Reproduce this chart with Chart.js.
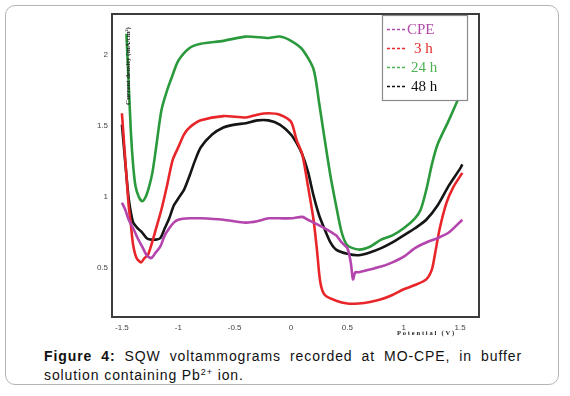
<!DOCTYPE html>
<html>
<head>
<meta charset="utf-8">
<script src="https://cdn.jsdelivr.net/npm/chart.js@4/dist/chart.umd.min.js"></script>
<style>
  html,body{margin:0;padding:0;background:#fff;width:570px;height:396px;overflow:hidden;}
  #frame{position:absolute;left:5px;top:5px;width:552px;height:378px;border:1.5px solid #b4b4b4;border-radius:10px;}
  #wrap{position:absolute;left:0;top:0;width:570px;height:340px;}
  #cap{position:absolute;left:44px;top:347px;width:478px;font-family:"Liberation Sans",Arial,sans-serif;font-size:14px;letter-spacing:0.9px;line-height:19px;color:#111;}
  #cap .l1{text-align:justify;text-align-last:justify;}
  #cap b{font-weight:bold;}
  #cap sup{font-size:9px;line-height:0;vertical-align:5px;}
</style>
</head>
<body>
<div id="frame"></div>
<div id="wrap"><canvas id="c" width="570" height="340"></canvas></div>
<div id="cap"><div class="l1"><b>Figure 4:</b> SQW voltammograms recorded at MO-CPE, in buffer</div><div>solution containing Pb<sup>2+</sup> ion.</div></div>
<script>
// ---- data (potential V, current density mA/cm2) ----
const seriesNames = ["CPE", "3 h", "24 h", "48 h"];
const xTicks = [-1.5, -1, -0.5, 0, 0.5, 1, 1.5];
const yTicks = [0.5, 1, 1.5, 2];

const cpeV = [-1.5,-1.47,-1.44,-1.40,-1.36,-1.32,-1.28,-1.24,-1.20,-1.16,-1.12,-1.08,-1.04,-1.0,-0.9,-0.8,-0.6,-0.4,-0.3,-0.2,-0.1,0.0,0.1,0.15,0.2,0.3,0.4,0.45,0.5,0.53,0.55,0.57,0.6,0.7,0.8,0.9,1.0,1.1,1.2,1.3,1.4,1.52];
const cpeI = [0.96,0.91,0.84,0.78,0.71,0.65,0.59,0.57,0.61,0.65,0.73,0.78,0.82,0.84,0.85,0.85,0.84,0.82,0.83,0.85,0.85,0.85,0.86,0.84,0.82,0.78,0.73,0.68,0.64,0.54,0.42,0.47,0.47,0.49,0.51,0.54,0.58,0.64,0.68,0.71,0.75,0.84];

const h3V = [-1.5,-1.48,-1.46,-1.44,-1.42,-1.40,-1.37,-1.33,-1.30,-1.27,-1.24,-1.20,-1.15,-1.10,-1.05,-1.0,-0.95,-0.9,-0.8,-0.6,-0.4,-0.3,-0.2,-0.1,0.0,0.05,0.1,0.15,0.2,0.23,0.26,0.3,0.4,0.5,0.6,0.7,0.8,0.9,1.0,1.1,1.2,1.25,1.28,1.32,1.38,1.44,1.52];
const h3I = [1.59,1.37,1.15,0.94,0.80,0.66,0.57,0.54,0.57,0.59,0.66,0.77,0.91,1.08,1.26,1.35,1.44,1.49,1.54,1.57,1.56,1.58,1.59,1.58,1.53,1.40,1.30,1.08,0.84,0.63,0.40,0.31,0.27,0.25,0.25,0.26,0.28,0.31,0.35,0.38,0.42,0.49,0.61,0.78,0.96,1.07,1.17];

const h24V = [-1.46,-1.44,-1.42,-1.40,-1.38,-1.35,-1.32,-1.29,-1.26,-1.23,-1.20,-1.15,-1.10,-1.05,-1.0,-0.9,-0.8,-0.6,-0.4,-0.2,-0.1,0.0,0.1,0.2,0.25,0.3,0.35,0.4,0.45,0.5,0.6,0.7,0.8,0.9,1.0,1.1,1.15,1.2,1.25,1.3,1.4,1.5];
const h24I = [2.15,1.80,1.45,1.22,1.08,1.00,0.97,1.00,1.07,1.17,1.33,1.61,1.75,1.86,1.96,2.05,2.08,2.10,2.13,2.12,2.13,2.10,2.04,1.90,1.66,1.40,1.15,0.94,0.75,0.66,0.63,0.65,0.70,0.73,0.78,0.85,0.91,1.05,1.23,1.37,1.54,1.72];

const h48V = [-1.5,-1.48,-1.46,-1.44,-1.42,-1.40,-1.36,-1.32,-1.28,-1.24,-1.20,-1.16,-1.12,-1.08,-1.04,-1.0,-0.95,-0.9,-0.85,-0.8,-0.7,-0.6,-0.5,-0.4,-0.3,-0.2,-0.1,0.0,0.05,0.1,0.15,0.2,0.25,0.3,0.35,0.4,0.5,0.6,0.7,0.8,0.9,1.0,1.1,1.2,1.3,1.4,1.5,1.52];
const h48I = [1.51,1.33,1.15,0.99,0.89,0.82,0.78,0.75,0.71,0.70,0.70,0.71,0.78,0.85,0.94,0.99,1.05,1.15,1.26,1.35,1.44,1.49,1.51,1.52,1.54,1.54,1.51,1.44,1.38,1.30,1.18,1.01,0.87,0.77,0.68,0.63,0.60,0.59,0.61,0.64,0.68,0.73,0.78,0.84,0.94,1.08,1.20,1.23];

const lineColors = ["#b445ad", "#e8262a", "#2a9a3c", "#151515"];
const legendTextColors = ["#b04aa8", "#e42a2a", "#4cb254", "#111111"];

const zip = (xs, ys) => xs.map((x, i) => ({x: x, y: ys[i]}));
const seriesData = [zip(cpeV, cpeI), zip(h3V, h3I), zip(h24V, h24I), zip(h48V, h48I)];

const textPlugin = {
  id: 'legendAndTitles',
  afterDraw(chart) {
    const ctx = chart.ctx, a = chart.chartArea;
    ctx.save();
    // top and right sides of the plot frame (left/bottom come from the scale borders)
    ctx.fillStyle = '#3c3c3c';
    ctx.fillRect(a.left - 1, a.top - 2, a.right - a.left + 3, 2);
    ctx.fillRect(a.right, a.top - 2, 2, a.bottom - a.top + 3);
    // legend box
    const lx = 382, ly = a.top, lw = 85, lh = 85;
    ctx.fillStyle = '#fff';
    ctx.fillRect(lx, ly, lw, lh);
    ctx.strokeStyle = '#8a8a8a';
    ctx.lineWidth = 1.2;
    ctx.strokeRect(lx + 0.5, ly + 0.5, lw, lh);
    ctx.textBaseline = 'middle';
    const rowsY = [29, 48, 67, 86];
    const textX = [407, 414, 411, 411];
    for (let i = 0; i < seriesNames.length; i++) {
      ctx.strokeStyle = legendTextColors[i];
      ctx.lineWidth = 1.3;
      ctx.setLineDash([3, 2]);
      ctx.beginPath();
      ctx.moveTo(387, rowsY[i] + 0.5);
      ctx.lineTo(405, rowsY[i] + 0.5);
      ctx.stroke();
      ctx.setLineDash([]);
      ctx.fillStyle = legendTextColors[i];
      ctx.font = '15px "Liberation Serif", "Times New Roman", serif';
      ctx.fillText(seriesNames[i], textX[i], rowsY[i] + 1);
    }
    // y-axis title inside plot
    ctx.fillStyle = '#222';
    ctx.font = 'bold 7px "Liberation Serif", serif';
    ctx.translate(128, 66);
    ctx.rotate(-Math.PI / 2);
    ctx.textAlign = 'center';
    ctx.fillText('Current density (mA/cm\u00B2)', 0, 0);
    ctx.restore();
    ctx.save();
    // x-axis title
    ctx.font = 'bold 6.5px "Liberation Serif", serif';
    ctx.letterSpacing = '1.8px';
    ctx.textAlign = 'left';
    ctx.textBaseline = 'middle';
    ctx.fillStyle = '#222';
    ctx.fillText('Potential (V)', 397, 333);
    ctx.restore();
  }
};

new Chart(document.getElementById('c'), {
  type: 'line',
  data: {
    datasets: seriesData.map((d, i) => ({
      label: seriesNames[i],
      data: d,
      borderColor: lineColors[i],
      backgroundColor: lineColors[i],
      borderWidth: 2.6,
      pointRadius: 0,
      tension: 0.25,
      fill: false
    }))
  },
  options: {
    responsive: false,
    animation: false,
    layout: {padding: {left: 0, top: 15, right: 92, bottom: 0}},
    plugins: {legend: {display: false}, tooltip: {enabled: false}},
    scales: {
      x: {
        type: 'linear', min: -1.588, max: 1.659,
        afterBuildTicks: s => { s.ticks = xTicks.map(v => ({value: v})); },
        afterFit: s => { s.height = 23; },
        grid: {display: false, drawTicks: false},
        border: {display: true, color: '#3c3c3c', width: 2},
        ticks: {padding: 6, color: '#444', font: {family: 'Liberation Sans', size: 8},
                callback: v => String(v)}
      },
      y: {
        type: 'linear', min: 0.155, max: 2.282,
        afterBuildTicks: s => { s.ticks = yTicks.map(v => ({value: v})); },
        afterFit: s => { s.width = 112; },
        grid: {display: false, drawTicks: false},
        border: {display: true, color: '#3c3c3c', width: 2},
        ticks: {padding: 4, color: '#444', font: {family: 'Liberation Sans', size: 8},
                callback: v => String(v)}
      }
    }
  },
  plugins: [textPlugin]
});
</script>
</body>
</html>
